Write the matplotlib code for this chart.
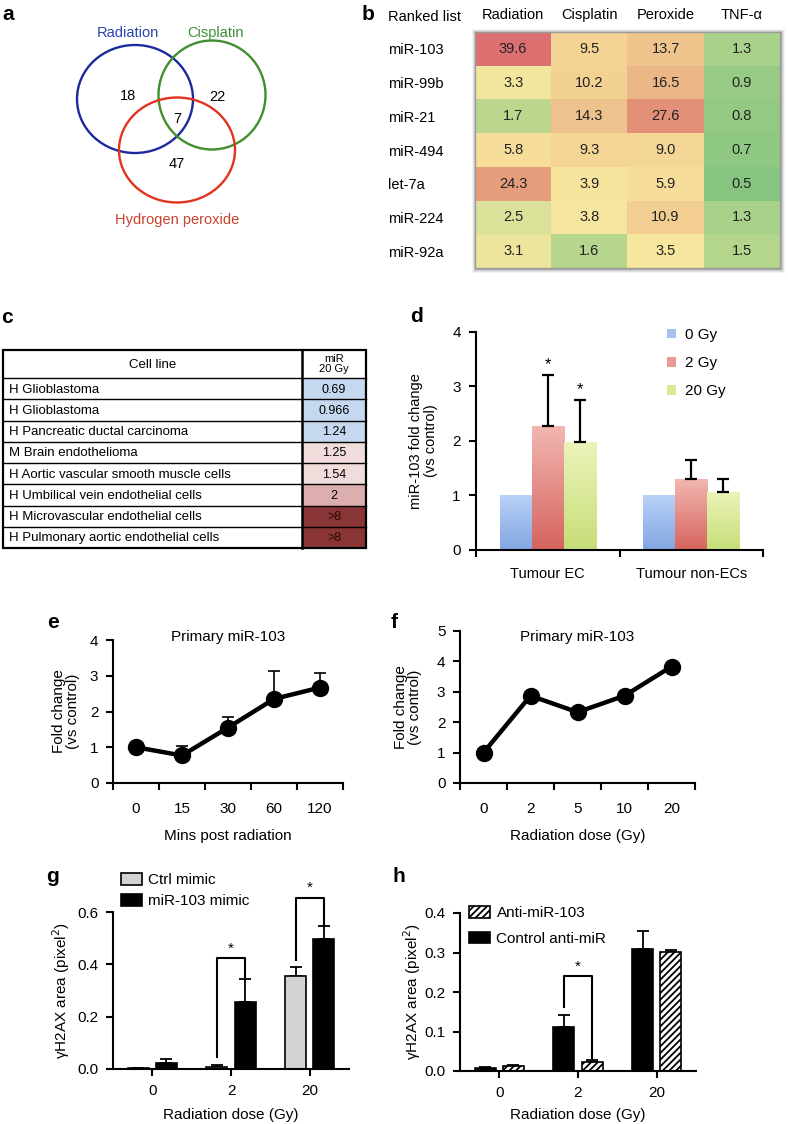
import numpy as np
import matplotlib
matplotlib.use('Agg')
import matplotlib.pyplot as plt
from matplotlib.patches import Ellipse, Rectangle, Patch
from matplotlib.colors import LinearSegmentedColormap, LogNorm
from matplotlib.ticker import FormatStrFormatter

plt.rcParams['font.family'] = ['Liberation Sans', 'DejaVu Sans']
plt.rcParams['hatch.linewidth'] = 1.3
plt.rcParams['axes.linewidth'] = 1.5

# ---------------- data ----------------
venn_sets = ['Radiation', 'Cisplatin', 'Hydrogen peroxide']
venn_counts = [18, 22, 7, 47]   # radiation only, cisplatin only, shared, peroxide only

b_mirs = ['miR-103', 'miR-99b', 'miR-21', 'miR-494', 'let-7a', 'miR-224', 'miR-92a']
b_treatments = ['Radiation', 'Cisplatin', 'Peroxide', 'TNF-α']
b_radiation = [39.6, 3.3, 1.7, 5.8, 24.3, 2.5, 3.1]
b_cisplatin = [9.5, 10.2, 14.3, 9.3, 3.9, 3.8, 1.6]
b_peroxide = [13.7, 16.5, 27.6, 9.0, 5.9, 10.9, 3.5]
b_tnf = [1.3, 0.9, 0.8, 0.7, 0.5, 1.3, 1.5]

c_cell_lines = ['H Glioblastoma', 'H Glioblastoma', 'H Pancreatic ductal carcinoma',
                'M Brain endothelioma', 'H Aortic vascular smooth muscle cells',
                'H Umbilical vein endothelial cells', 'H Microvascular endothelial cells',
                'H Pulmonary aortic endothelial cells']
c_values = ['0.69', '0.966', '1.24', '1.25', '1.54', '2', '>8', '>8']

d_groups = ['Tumour EC', 'Tumour non-ECs']
d_doses = ['0 Gy', '2 Gy', '20 Gy']
d_0gy = [1.0, 1.0]
d_2gy = [2.27, 1.30]
d_20gy = [1.98, 1.06]
d_2gy_err = [0.95, 0.36]
d_20gy_err = [0.77, 0.24]
d_sig_2gy = [True, False]
d_sig_20gy = [True, False]

e_times = ['0', '15', '30', '60', '120']
e_mean = [1.0, 0.77, 1.55, 2.35, 2.67]
e_err = [0.0, 0.26, 0.30, 0.77, 0.41]

f_doses = ['0', '2', '5', '10', '20']
f_mean = [1.0, 2.87, 2.33, 2.87, 3.83]

g_doses = ['0', '2', '20']
g_ctrl = [0.003, 0.008, 0.355]
g_ctrl_err = [0.002, 0.006, 0.033]
g_mir = [0.023, 0.255, 0.495]
g_mir_err = [0.016, 0.090, 0.050]
g_sig_idx = [1, 2]
g_sig_h = [0.425, 0.655]

h_doses = ['0', '2', '20']
h_ctrl = [0.007, 0.112, 0.310]
h_ctrl_err = [0.003, 0.031, 0.045]
h_anti = [0.012, 0.022, 0.302]
h_anti_err = [0.004, 0.006, 0.005]
h_sig_idx = [1]
h_sig_h = [0.24]

# ---------------- helpers ----------------
W, H = 788, 1124
fig = plt.figure(figsize=(W / 100, H / 100), dpi=100)


def add_ax(l, t, r, b):
    return fig.add_axes([l / W, 1 - b / H, (r - l) / W, (b - t) / H])


def ftext(x, y, s, **kw):
    return fig.text(x / W, 1 - y / H, s, **kw)


for lab, (x, y) in zip('abcdefgh', [(2, 14), (362, 14), (1, 318), (410, 316),
                                     (47, 622), (391, 623), (46, 877), (392, 877)]):
    ftext(x, y, lab, fontsize=15, fontweight='bold', ha='left', va='center')

# ---------------- a: Venn ----------------
axa = add_ax(0, 0, 390, 240)
axa.set_xlim(0, 390)
axa.set_ylim(240, 0)
axa.axis('off')
circ_cols = ['#1c2a9e', '#3f8f2c', '#e2331f']
lab_cols = ['#2b44b0', '#3b8d33', '#c8432e']
circ_geo = [((135, 99), 116, 108), ((212, 95), 107, 109), ((177, 150), 116, 105)]
for (c, w, h), col in zip(circ_geo, circ_cols):
    axa.add_patch(Ellipse(c, w, h, fill=False, edgecolor=col, lw=1.7))
for name, col, pos in zip(venn_sets, lab_cols, [(128, 33), (215, 33), (177, 220)]):
    axa.text(*pos, name, color=col, fontsize=10.5, ha='center', va='center')
for cnt, pos in zip(venn_counts, [(128, 96), (217, 97), (177, 119), (177, 164)]):
    axa.text(*pos, str(cnt), fontsize=10.5, ha='center', va='center')

# ---------------- b: heatmap ----------------
b_vals = np.array([b_radiation, b_cisplatin, b_peroxide, b_tnf]).T
cmap_b = LinearSegmentedColormap.from_list('rg', [
    (0.00, '#86c57f'), (0.13, '#97cb85'), (0.22, '#a9d28b'), (0.30, '#c3da90'),
    (0.37, '#dde29a'), (0.44, '#f6e79f'), (0.56, '#f7df9b'), (0.67, '#f4d596'),
    (0.76, '#efc48d'), (0.89, '#e59c7b'), (1.00, '#dc7070')])
# soft shadow behind the heat map
for pad, a in [(4, 0.07), (3, 0.10), (2, 0.15), (1, 0.25)]:
    fig.patches.append(Rectangle(((475 - pad + 1) / W, 1 - (268 + pad + 1) / H),
                                 (305 + 2 * pad) / W, (236 + 2 * pad) / H,
                                 transform=fig.transFigure, facecolor='#555555',
                                 alpha=a, edgecolor='none', zorder=-5))
axb = add_ax(475, 32, 780, 268)
axb.set_zorder(3)
axb.imshow(b_vals, cmap=cmap_b, norm=LogNorm(0.5, 40), aspect='auto')
for i in range(b_vals.shape[0]):
    for j in range(b_vals.shape[1]):
        axb.text(j, i, f'{b_vals[i, j]:.1f}', ha='center', va='center', fontsize=10.5,
                 color='#222222')
axb.xaxis.tick_top()
axb.set_xticks(range(len(b_treatments)))
axb.set_xticklabels(b_treatments, fontsize=10.5)
axb.set_yticks(range(len(b_mirs)))
axb.set_yticklabels(b_mirs, fontsize=10.5, ha='left')
axb.tick_params(axis='y', length=0, pad=62.6)
axb.tick_params(axis='x', length=0, pad=7)
for s in axb.spines.values():
    s.set_edgecolor('#9a9a9a')
    s.set_linewidth(1.0)
ftext(388, 17, 'Ranked list', fontsize=10.5, ha='left', va='center')

# ---------------- c: table ----------------
c_colors = ['#c5d8ef'] * 3 + ['#f1dcdc', '#f1dcdc', '#ddaeae', '#8a3535', '#8a3535']
axc = add_ax(3, 350, 366, 548)
TW, TH = 363, 198
axc.set_xlim(0, TW)
axc.set_ylim(TH, 0)
axc.axis('off')
hdr_h = 28
div = 299
row_h = (TH - hdr_h) / len(c_cell_lines)
for i, (name, val, col) in enumerate(zip(c_cell_lines, c_values, c_colors)):
    y0 = hdr_h + i * row_h
    axc.add_patch(Rectangle((div, y0), TW - div, row_h, facecolor=col, edgecolor='none'))
    axc.text(6, y0 + row_h / 2 + 1, name, ha='left', va='center', fontsize=9.5)
    axc.text((div + TW) / 2, y0 + row_h / 2 + 1, val, ha='center', va='center',
             fontsize=9, color='#2a0808' if col == '#8a3535' else 'black')
    axc.plot([0, TW], [y0, y0], color='black', lw=1.0, clip_on=False)
axc.text(div / 2, hdr_h / 2 + 1, 'Cell line', ha='center', va='center', fontsize=9.5)
axc.text((div + TW) / 2, hdr_h / 2, 'miR\n20 Gy', ha='center', va='center', fontsize=8,
         linespacing=1.0)
axc.plot([div, div], [0, TH], color='black', lw=1.8, clip_on=False)
axc.add_patch(Rectangle((0, 0), TW, TH, fill=False, edgecolor='black', lw=1.6, clip_on=False))

# ---------------- d: grouped bars ----------------
axd = add_ax(476, 332, 763, 550)
xg = np.arange(len(d_groups)) + 0.5
bw = 0.223
grads = [('#b9d0f5', '#82a7e3'), ('#f2b6b1', '#d6645e'), ('#ecf3b9', '#c6de78')]
series = [(d_0gy, None, None), (d_2gy, d_2gy_err, d_sig_2gy), (d_20gy, d_20gy_err, d_sig_20gy)]
for k, ((vals, err, sig), (ctop, cbot), lab) in enumerate(zip(series, grads, d_doses)):
    xs = xg + (k - 1) * bw
    bars = axd.bar(xs, vals, width=bw, color=ctop, edgecolor='none', zorder=2, label=lab)
    cm = LinearSegmentedColormap.from_list('gb%d' % k, [cbot, ctop])
    for b in bars:
        im = axd.imshow(np.linspace(0, 1, 64).reshape(-1, 1),
                        extent=[b.get_x(), b.get_x() + b.get_width(), 0, b.get_height()],
                        origin='lower', cmap=cm, aspect='auto', zorder=2)
        im.set_clip_path(b)
        b.set_facecolor('none')
    if err is not None:
        axd.errorbar(xs, vals, yerr=[np.zeros(len(err)), err], fmt='none', ecolor='black',
                     elinewidth=1.6, capsize=4.5, capthick=1.6, zorder=3)
        for x, v, e, s in zip(xs, vals, err, sig):
            if s:
                axd.text(x, v + e + 0.05, '*', ha='center', va='bottom', fontsize=12)
axd.set_xlim(0, len(d_groups))
axd.set_ylim(0, 4)
axd.spines['top'].set_visible(False)
axd.spines['right'].set_visible(False)
axd.set_yticks(range(5))
axd.set_xticks(range(len(d_groups) + 1))
axd.set_xticklabels([])
axd.set_xticks(xg, minor=True)
axd.set_xticklabels(d_groups, minor=True, fontsize=10.5)
axd.tick_params(axis='x', which='minor', length=0, pad=12)
axd.tick_params(axis='both', which='major', direction='out', length=5, width=1.5,
                labelsize=11)
axd.tick_params(axis='y', pad=6)
axd.set_ylabel('miR-103 fold change\n(vs control)', fontsize=10.5, linespacing=1.1)
axd.yaxis.set_label_coords(-0.132, 0.5)
handles = [Patch(facecolor=c, edgecolor='none') for c in ['#a6c2ef', '#e79a96', '#d9e994']]
axd.legend(handles, d_doses, loc='upper left', bbox_to_anchor=(667 / W, 1 - 328 / H),
           bbox_transform=fig.transFigure, frameon=False, fontsize=11, handlelength=0.6,
           handleheight=0.6, handletextpad=0.6, labelspacing=0.92, borderpad=0,
           borderaxespad=0)


# ---------------- e, f: line plots ----------------
def line_panel(ax, cats, mean, err, ymax, title, xlabel, title_y, xlab_y):
    x = np.arange(len(cats))
    ax.plot(x, mean, '-o', color='black', lw=3.2, markersize=11.5, zorder=3)
    if err is not None:
        ax.errorbar(x, mean, yerr=[np.zeros(len(err)), err], fmt='none', ecolor='black',
                    elinewidth=1.2, capsize=4, capthick=1.2, zorder=2)
    ax.set_xlim(-0.5, len(cats) - 0.5)
    ax.set_ylim(0, ymax)
    ax.spines['top'].set_visible(False)
    ax.spines['right'].set_visible(False)
    ax.set_yticks(range(ymax + 1))
    ax.set_xticks(np.arange(len(cats) + 1) - 0.5)
    ax.set_xticklabels([])
    ax.set_xticks(x, minor=True)
    ax.set_xticklabels(cats, minor=True, fontsize=11)
    ax.tick_params(axis='x', which='minor', length=0, pad=13.5)
    ax.tick_params(axis='both', which='major', direction='out', length=5, width=1.5,
                   labelsize=11)
    ax.tick_params(axis='y', pad=5.5)
    ax.text(0.5, title_y, title, transform=ax.transAxes, ha='center', va='center',
            fontsize=11)
    ax.set_xlabel(xlabel, fontsize=11)
    ax.xaxis.set_label_coords(0.5, xlab_y)
    ax.xaxis.label.set_va('top')
    ax.set_ylabel('Fold change\n(vs control)', fontsize=11, linespacing=1.0)


axe = add_ax(113, 640, 343, 783)
line_panel(axe, e_times, e_mean, e_err, 4, 'Primary miR-103', 'Mins post radiation',
           1.02, -0.32)
axe.yaxis.set_label_coords(-0.143, 0.5)

axf = add_ax(460, 631, 695, 783)
line_panel(axf, f_doses, f_mean, None, 5, 'Primary miR-103', 'Radiation dose (Gy)',
           0.96, -0.30)
axf.yaxis.set_label_coords(-0.16, 0.5)


# ---------------- g, h: bars ----------------
def bar_panel(ax, cats, s1, e1, s2, e2, st1, st2, sig_idx, sig_h, ymax, ystep, xlab_y):
    x = np.arange(len(cats))
    off, w = 0.18, 0.27
    ax.bar(x - off, s1, w, zorder=2, **st1)
    ax.bar(x + off, s2, w, zorder=2, **st2)
    ax.errorbar(x - off, s1, yerr=[np.zeros(len(e1)), e1], fmt='none', ecolor='black',
                elinewidth=1.3, capsize=4, capthick=1.3, zorder=1)
    ax.errorbar(x + off, s2, yerr=[np.zeros(len(e2)), e2], fmt='none', ecolor='black',
                elinewidth=1.3, capsize=4, capthick=1.3, zorder=1)
    for i, hh in zip(sig_idx, sig_h):
        xl, xr = x[i] - off, x[i] + off
        yl = s1[i] + e1[i] + 0.05 * ymax
        yr = s2[i] + e2[i] + 0.01 * ymax
        ax.plot([xl, xl, xr, xr], [yl, hh, hh, yr], color='black', lw=1.5, zorder=3,
                clip_on=False)
        ax.text((xl + xr) / 2, hh + 0.015 * ymax, '*', ha='center', va='bottom',
                fontsize=11, clip_on=False)
    ax.set_xlim(-0.5, len(cats) - 0.5)
    ax.set_ylim(0, ymax)
    ax.spines['top'].set_visible(False)
    ax.spines['right'].set_visible(False)
    ax.set_yticks(np.arange(0, ymax + 1e-9, ystep))
    ax.yaxis.set_major_formatter(FormatStrFormatter('%.1f'))
    ax.set_xticks(x)
    ax.set_xticklabels(cats)
    ax.tick_params(axis='both', direction='out', length=5, width=1.5, labelsize=11)
    ax.tick_params(axis='x', pad=6)
    ax.tick_params(axis='y', pad=5.5)
    ax.set_ylabel('γH2AX area (pixel$^2$)', fontsize=11)
    ax.set_xlabel('Radiation dose (Gy)', fontsize=11)
    ax.xaxis.set_label_coords(0.5, xlab_y)
    ax.xaxis.label.set_va('top')


axg = add_ax(113, 912, 349, 1069)
st_ctrl = dict(facecolor='#d3d3d3', edgecolor='black', linewidth=1.2)
st_mir = dict(facecolor='black', edgecolor='black', linewidth=1.2)
bar_panel(axg, g_doses, g_ctrl, g_ctrl_err, g_mir, g_mir_err, st_ctrl, st_mir,
          g_sig_idx, g_sig_h, 0.6, 0.2, -0.25)
axg.yaxis.set_label_coords(-0.174, 0.5)
axg.legend([Patch(**st_ctrl), Patch(**st_mir)], ['Ctrl mimic', 'miR-103 mimic'],
           loc='upper left', bbox_to_anchor=(121 / W, 1 - 873 / H),
           bbox_transform=fig.transFigure, frameon=False, fontsize=11, handlelength=1.4,
           handleheight=0.8, handletextpad=0.4, labelspacing=0.45, borderpad=0,
           borderaxespad=0)

axh = add_ax(460, 913, 696, 1071)
st_black = dict(facecolor='black', edgecolor='black', linewidth=1.2)
st_hatch = dict(facecolor='white', edgecolor='black', linewidth=1.2, hatch='/////')
bar_panel(axh, h_doses, h_ctrl, h_ctrl_err, h_anti, h_anti_err, st_black, st_hatch,
          h_sig_idx, h_sig_h, 0.4, 0.1, -0.234)
axh.yaxis.set_label_coords(-0.157, 0.5)
axh.legend([Patch(**st_hatch), Patch(**st_black)], ['Anti-miR-103', 'Control anti-miR'],
           loc='upper left', bbox_to_anchor=(469 / W, 1 - 906 / H),
           bbox_transform=fig.transFigure, frameon=False, fontsize=11, handlelength=1.4,
           handleheight=0.8, handletextpad=0.4, labelspacing=0.75, borderpad=0,
           borderaxespad=0)

fig.savefig('out.png', dpi=100)
